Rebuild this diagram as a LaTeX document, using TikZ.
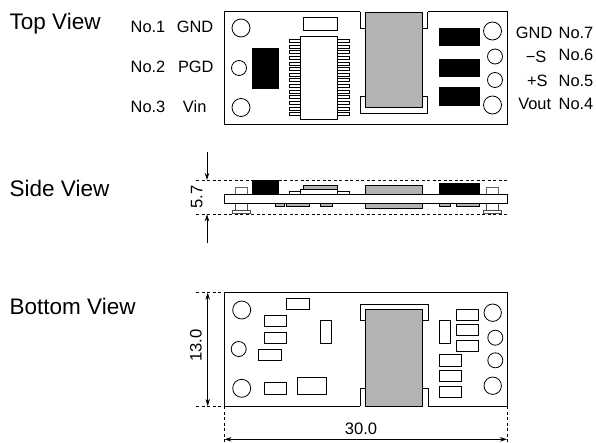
\documentclass[tikz,border=0pt]{standalone}
\usepackage{fontspec}
\usetikzlibrary{arrows.meta}
\setmainfont{Liberation Sans}
\definecolor{crystal}{HTML}{B3B3B3}
\tikzset{
  line/.style={line width=0.8pt},
  part/.style={line, draw=black, fill=white},
  hot/.style={line, draw=black, fill=crystal},
  blk/.style={fill=black, draw=black, line width=0.4pt},
  title/.style={anchor=base west, inner sep=0pt, font=\fontsize{22.5}{22.5}\selectfont},
  pinlabel/.style={anchor=base, inner sep=0pt, font=\fontsize{16.4}{16.4}\selectfont},
  dimlabel/.style={anchor=base, inner sep=0pt, font=\fontsize{16.6}{16.6}\selectfont},
  dim/.style={line width=0.8pt, {Stealth[length=7pt,width=4.5pt]}-{Stealth[length=7pt,width=4.5pt]}},
  dimin/.style={line width=0.8pt, -{Stealth[length=7pt,width=4.5pt]}},
  guide/.style={line width=0.7pt, dash pattern=on 3pt off 2.5pt}
}
\begin{document}
\begin{tikzpicture}[x=1pt,y=-1pt]
  \useasboundingbox (0,0) rectangle (596,442);
  \node[title] (top) at (9.5,29.3) {Top View};
  \node[title] (side) at (9.5,196.7) {Side View};
  \node[title] (bottom) at (9.5,314.3) {Bottom View};

  % top view
  \draw[line] (360,11.5) -- (224.5,11.5) -- (224.5,124) -- (507,124) -- (507,11.5) -- (427.5,11.5);
  \draw[line] (360,11.5) -- (360,28) -- (365.5,28);
  \draw[line] (427.5,11.5) -- (427.5,28) -- (422,28);
  \draw[line] (365.5,96) -- (360,96) -- (360,113) -- (427.5,113) -- (427.5,96) -- (422,96);
  \draw[hot] (365.5,12) rectangle (422,107);
  \foreach \x/\y/\r in {241/28/9, 239/68/7.5, 241/107.5/9, 492.5/31/9, 495/56.5/7.5, 495/80/7.5, 492.5/105/9}
    \draw[line] (\x,\y) circle (\r);
  \fill[blk] (252,48) rectangle (278.5,88);
  \foreach \y in {28,59,87.5}
    \fill[blk] (439,\y) rectangle (479,\y+17.5);
  \draw[part] (303,17) rectangle (337.5,30.5);
  \foreach \i in {0,...,13} {
    \draw[line, line width=0.6pt] (289,39.2+5.65*\i) rectangle (300.5,42.2+5.65*\i);
    \draw[line, line width=0.6pt] (337.5,39.2+5.65*\i) rectangle (349,42.2+5.65*\i);
  }
  \draw[part] (300.5,36.5) rectangle (337.5,119);

  \node[pinlabel] (no1) at (148,32.7) {No.1};
  \node[pinlabel] (no2) at (148,72.7) {No.2};
  \node[pinlabel] (no3) at (148,112.3) {No.3};
  \node[pinlabel] (gnd) at (195,32.7) {GND};
  \node[pinlabel] (pgd) at (195.8,72.7) {PGD};
  \node[pinlabel] (vin) at (194.7,112.3) {Vin};
  \node[pinlabel] (gndr) at (534.2,38.3) {GND};
  \node[pinlabel] (ms) at (536,62.7) {−S};
  \node[pinlabel] (ps) at (537.3,86) {+S};
  \node[pinlabel] (vout) at (534.7,109) {Vout};
  \node[pinlabel] (no7) at (576,38.3) {No.7};
  \node[pinlabel] (no6) at (576,60.7) {No.6};
  \node[pinlabel] (no5) at (576,86) {No.5};
  \node[pinlabel] (no4) at (576,109) {No.4};

  % side view
  \coordinate (sa) at (207,152);
  \coordinate (sb) at (207,180);
  \coordinate (sc) at (207,214.3);
  \coordinate (sd) at (207,242.5);
  \coordinate (se) at (196,180);
  \coordinate (sf) at (507,180);
  \coordinate (sg) at (196,214.3);
  \coordinate (sh) at (507,214.3);
  \draw[guide] (se) -- (sf);
  \draw[guide] (sg) -- (sh);
  \draw[dimin] (sa) -- (sb);
  \draw[dimin] (sd) -- (sc);
  \node[dimlabel, rotate=90] (h57) at (202.3,197) {5.7};
  \foreach \x in {235.5,486.5} {
    \draw[line, draw=black!60] (\x,194.5) -- (\x,187) -- (\x+12,187) -- (\x+12,194.5);
    \draw[line, draw=black!70] (\x,203) rectangle (\x+12,210.5);
    \draw[line, draw=black!70] (\x-3,210.5) rectangle (\x+15,213.5);
  }
  \fill[blk] (252.5,180.5) rectangle (278.5,194.5);
  \fill[blk] (439,183) rectangle (479,194.5);
  \draw[part] (289.5,191.5) rectangle (349,194.5);
  \draw[hot] (303.5,185.5) rectangle (337.5,189);
  \draw[part] (300.5,189) rectangle (337.5,194.5);
  \draw[hot] (365.5,185.5) rectangle (422.5,194.5);
  \draw[hot] (365.5,203) rectangle (422.5,208.5);
  \foreach \a/\b in {275.5/284.5, 286.5/309.5, 320.5/332, 439/450.5, 456/479}
    \draw[hot] (\a,203) rectangle (\b,206);
  \draw[part] (224.5,194.5) rectangle (507,203);

  % bottom view
  \draw[line] (360,406) -- (224.5,406) -- (224.5,292.7) -- (507,292.7) -- (507,406) -- (428,406);
  \draw[line] (360,406) -- (360,388.3) -- (365.7,388.3);
  \draw[line] (428,406) -- (428,388.3) -- (422.3,388.3);
  \draw[line] (365.7,320.7) -- (360,320.7) -- (360,304) -- (428,304) -- (428,320.7) -- (422.3,320.7);
  \draw[hot] (365.7,309.3) rectangle (422.3,406);
  \foreach \x/\y/\r in {241.7/310/9, 238.7/349/7.5, 241.7/388.3/9, 492.7/312.7/8.7, 495.3/337.7/7.5, 495.3/360.3/7.5, 492.7/385.7/8.7}
    \draw[line] (\x,\y) circle (\r);
  \foreach \a/\b/\c/\d in {286.7/298.3/309.3/309.3, 264/315.3/286.7/326.7, 264/332.3/286.7/343.3,
      258.3/349/281/360.3, 264/382.7/286.7/394.3, 297.7/377.3/326/394.3, 320.7/320.7/331.7/343.3,
      439/320.7/450.7/343.3, 456/309.3/478.7/320.7, 456/324.3/478.7/335.7, 456/340.3/478.7/351.3,
      439/354.7/461.7/366, 439/370.3/461.7/381.7, 439/386.3/461.7/397.7}
    \draw[part] (\a,\b) rectangle (\c,\d);

  \coordinate (ba) at (196,292.7);
  \coordinate (bb) at (224.5,292.7);
  \coordinate (bc) at (196,406);
  \coordinate (bd) at (224.5,406);
  \coordinate (be) at (207.7,292.7);
  \coordinate (bf) at (207.7,406);
  \coordinate (bg) at (224.5,439.3);
  \coordinate (bh) at (507,406);
  \coordinate (bi) at (507,439.3);
  \coordinate (bj) at (224.5,442);
  \coordinate (bk) at (507,442);
  \draw[guide] (ba) -- (bb);
  \draw[guide] (bc) -- (bd);
  \draw[guide] (bd) -- (bj);
  \draw[guide] (bh) -- (bk);
  \draw[dim] (be) -- (bf);
  \draw[dim] (bg) -- (bi);
  \node[dimlabel, rotate=90] (h130) at (201.7,345.7) {13.0};
  \node[dimlabel] (w300) at (361,434) {30.0};
\end{tikzpicture}
\end{document}
